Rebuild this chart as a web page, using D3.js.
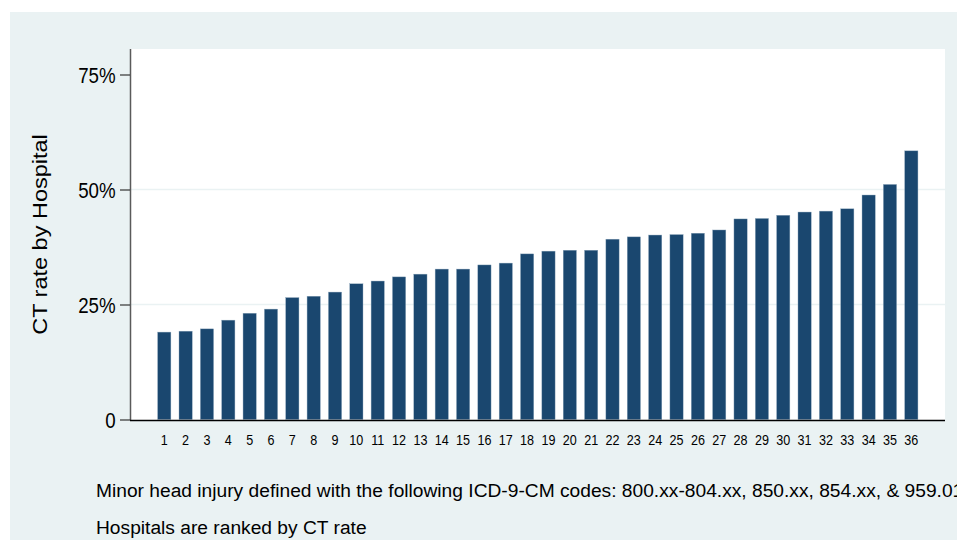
<!DOCTYPE html>
<html>
<head>
  <meta charset="utf-8">
  <title>CT rate by Hospital</title>
  <script src="https://d3js.org/d3.v7.min.js"></script>
  <style>
    body { margin: 0; background: #fff; }
    svg { display: block; font-family: "Liberation Sans", Arial, Helvetica, sans-serif; }
  </style>
</head>
<body>
  <script>
    // Hospitals, ranked by CT rate
    let hospitals = d3.range(1, 37).map(String);
    // CT rate (%)
    let ctRate = [19.0, 19.2, 19.7, 21.6, 23.1, 24.0, 26.5, 26.8, 27.7, 29.5,
                  30.1, 31.0, 31.6, 32.7, 32.7, 33.6, 34.0, 36.0, 36.6, 36.8,
                  36.8, 39.2, 39.7, 40.1, 40.2, 40.5, 41.2, 43.6, 43.7, 44.4,
                  45.1, 45.3, 45.8, 48.8, 51.1, 58.4];
    let yTicks = [0, 25, 50, 75];
    let gridTicks = [25, 50];
    let notes = [
      "Minor head injury defined with the following ICD-9-CM codes: 800.xx-804.xx, 850.xx, 854.xx, & 959.01",
      "Hospitals are ranked by CT rate"
    ];

    let data = hospitals.map(function(h, i) { return {hospital: h, rate: ctRate[i]}; });

    let W = 957, H = 540;
    let plot = {left: 130, right: 945, top: 49, bottom: 420};

    let svg = d3.select("body").append("svg")
                .attr("width", W)
                .attr("height", H);

    // graph region background
    svg.append("rect")
       .attr("x", 10).attr("y", 12)
       .attr("width", W - 10).attr("height", H - 12)
       .attr("fill", "#eaf2f3");

    // plot region
    svg.append("rect")
       .attr("x", plot.left).attr("y", plot.top)
       .attr("width", plot.right - plot.left).attr("height", plot.bottom - plot.top)
       .attr("fill", "#ffffff");

    let x = d3.scaleBand()
              .domain(hospitals)
              .range([153.6, 922])
              .paddingInner(0.38)
              .paddingOuter(0.19);

    let y = d3.scaleLinear()
              .domain([0, 75])
              .range([419.5, 74.5]);

    // grid lines
    svg.selectAll("line.grid")
       .data(gridTicks)
       .enter()
       .append("line")
       .attr("class", "grid")
       .attr("x1", plot.left).attr("x2", plot.right)
       .attr("y1", function(d) { return y(d); })
       .attr("y2", function(d) { return y(d); })
       .attr("stroke", "#eaf2f3")
       .attr("stroke-width", 1.5);

    // bars
    svg.selectAll("rect.bar")
       .data(data)
       .enter()
       .append("rect")
       .attr("class", "bar")
       .attr("x", function(d) { return x(d.hospital); })
       .attr("width", x.bandwidth())
       .attr("y", function(d) { return y(d.rate); })
       .attr("height", function(d) { return y(0) - y(d.rate); })
       .attr("fill", "#1a476f")
       .attr("stroke", "#8ea7bc")
       .attr("stroke-width", 0.4);

    // y axis
    let yAxis = svg.append("g")
       .attr("transform", "translate(" + plot.left + ",0)")
       .call(d3.axisLeft(y)
               .tickValues(yTicks)
               .tickSize(10)
               .tickPadding(7)
               .tickFormat(function(d) { return d === 0 ? "0" : d + "%"; }));
    yAxis.select(".domain")
         .attr("d", "M0.5," + plot.top + "V" + plot.bottom)
         .attr("stroke", "#5a5a5a")
         .attr("stroke-width", 1.5);
    yAxis.selectAll(".tick line").attr("stroke", "#333").attr("stroke-width", 1.2);
    yAxis.selectAll(".tick text")
         .attr("font-size", 22)
         .attr("font-family", "'Liberation Sans', Arial, sans-serif")
         .attr("fill", "#000")
         .attr("dy", "0.36em")
         .attr("transform", "scale(0.85,1)");

    // x axis (labels only, no ticks)
    let xAxis = svg.append("g")
       .attr("transform", "translate(0," + plot.bottom + ")")
       .call(d3.axisBottom(x).tickSize(0).tickPadding(0));
    xAxis.select(".domain")
         .attr("d", "M" + plot.left + ",0.5H" + plot.right)
         .attr("stroke", "#000")
         .attr("stroke-width", 1.5);
    xAxis.selectAll(".tick text")
         .attr("font-size", 15)
         .attr("font-family", "'Liberation Sans', Arial, sans-serif")
         .attr("fill", "#000")
         .attr("dy", null)
         .attr("y", 24.7)
         .attr("transform", "scale(0.84,1)");

    // y axis title
    svg.append("text")
       .attr("transform", "translate(40," + ((plot.top + plot.bottom) / 2) + ") scale(0.85,1) rotate(-90)")
       .attr("text-anchor", "middle")
       .attr("dy", "0.35em")
       .attr("font-size", 23.5)
       .attr("fill", "#000")
       .text("CT rate by Hospital");

    // notes
    svg.selectAll("text.note")
       .data(notes)
       .enter()
       .append("text")
       .attr("class", "note")
       .attr("transform", function(d, i) { return "translate(96," + (497.3 + i * 36.7) + ") scale(1,0.93)"; })
       .attr("font-size", 19.2)
       .attr("fill", "#000")
       .text(function(d) { return d; });
  </script>
</body>
</html>
